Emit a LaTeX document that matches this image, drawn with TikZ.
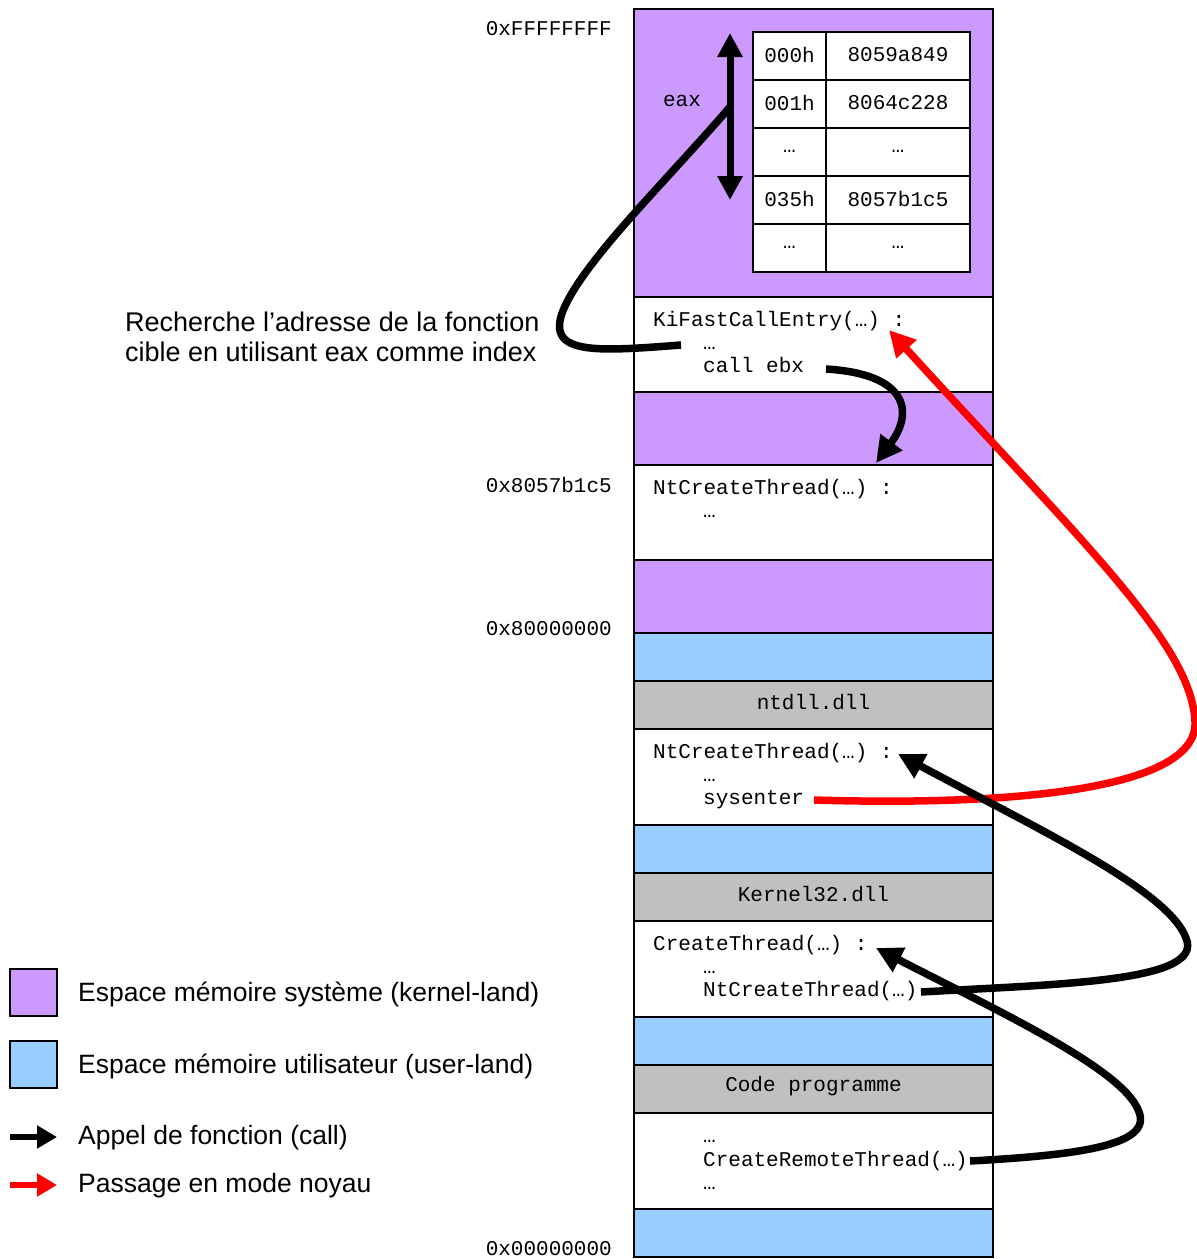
\documentclass[tikz,border=0pt]{standalone}
\usepackage{fontspec}
\setmainfont{Liberation Sans}
\newfontfamily\monof{Liberation Mono}
\usetikzlibrary{arrows.meta}
\definecolor{kern}{HTML}{CC99FF}
\definecolor{usr}{HTML}{99CCFF}
\definecolor{dllg}{HTML}{C0C0C0}
\begin{document}
\begin{tikzpicture}[x=1pt,y=-1pt,
  band/.style={draw=black,line width=2pt},
  mono/.style={font=\monof\fontsize{21}{25}\selectfont, inner sep=0pt},
  sans/.style={font=\fontsize{26.5}{31}\selectfont, inner sep=0pt},
  anno/.style={font=\fontsize{27}{31}\selectfont, inner sep=0pt},
  callarrow/.style={line width=7.5pt, -{Triangle[length=26pt,width=26pt]}},
  kernarrow/.style={callarrow, color=red},
  link/.style={line width=7.5pt},
  legarrow/.style={line width=6.5pt, -{Triangle[length=20pt,width=22pt]}}]
\useasboundingbox (0,0) rectangle (1197,1259);

% memory column
\filldraw[band,fill=kern] (634,9) rectangle (993,297);
\filldraw[band,fill=white] (634,297) rectangle (993,392);
\filldraw[band,fill=kern] (634,392) rectangle (993,465);
\filldraw[band,fill=white] (634,465) rectangle (993,560);
\filldraw[band,fill=kern] (634,560) rectangle (993,633);
\filldraw[band,fill=usr] (634,633) rectangle (993,681);
\filldraw[band,fill=dllg] (634,681) rectangle (993,729);
\filldraw[band,fill=white] (634,729) rectangle (993,825);
\filldraw[band,fill=usr] (634,825) rectangle (993,873);
\filldraw[band,fill=dllg] (634,873) rectangle (993,921);
\filldraw[band,fill=white] (634,921) rectangle (993,1017);
\filldraw[band,fill=usr] (634,1017) rectangle (993,1065);
\filldraw[band,fill=dllg] (634,1065) rectangle (993,1113);
\filldraw[band,fill=white] (634,1113) rectangle (993,1209);
\filldraw[band,fill=usr] (634,1209) rectangle (993,1257);

% table
\foreach \y/\a/\b [count=\i] in {32/000h/8059a849, 80/001h/8064c228, 128/…/…, 176/035h/8057b1c5, 224/…/…}{
  \filldraw[band,fill=white] (753,\y) rectangle (826,\y+48);
  \filldraw[band,fill=white] (826,\y) rectangle (970,\y+48);
  \node[mono] (tk\i) at (789.5,\y+23) {\a};
  \node[mono] (tv\i) at (898,\y+23) {\b};
}

% addresses
\node[mono,anchor=east] (addrF) at (612,29) {0xFFFFFFFF};
\node[mono,anchor=east] (addrN) at (612,485) {0x8057b1c5};
\node[mono,anchor=east] (addr8) at (612,629) {0x80000000};
\node[mono,anchor=east] (addr0) at (612,1249) {0x00000000};

% eax
\node[mono] (eax) at (682,101) {eax};
\coordinate (eaxtop) at (730,33);
\coordinate (eaxbot) at (730,200);
\coordinate (eaxmid) at (730,107);
\draw[line width=7pt,{Triangle[length=24pt,width=24pt]}-{Triangle[length=24pt,width=24pt]}] (eaxtop) -- (eaxbot);

% code texts
\node[mono,anchor=base west] (kifast) at (653,326) {KiFastCallEntry(…) :};
\node[mono,anchor=base west] (kidots) at (703,349) {…};
\node[mono,anchor=base west] (callebx) at (703,372) {call ebx};

\node[mono,anchor=base west] (ntk) at (653,494) {NtCreateThread(…) :};
\node[mono,anchor=base west] (ntkdots) at (703,517) {…};

\node[mono] (ntdll) at (813.5,702) {ntdll.dll};
\node[mono,anchor=base west] (ntu) at (653,758) {NtCreateThread(…) :};
\node[mono,anchor=base west] (ntudots) at (703,781) {…};
\node[mono,anchor=base west] (sysenter) at (703,804) {sysenter};

\node[mono] (k32) at (813.5,894) {Kernel32.dll};
\node[mono,anchor=base west] (ct) at (653,950) {CreateThread(…) :};
\node[mono,anchor=base west] (ctdots) at (703,973) {…};
\node[mono,anchor=base west] (ctcall) at (703,996) {NtCreateThread(…)};

\node[mono] (prog) at (813.5,1086) {Code programme};
\node[mono,anchor=base west] (pdots1) at (703,1142) {…};
\node[mono,anchor=base west] (crt) at (703,1166) {CreateRemoteThread(…)};
\node[mono,anchor=base west] (pdots2) at (703,1189) {…};

% annotation
\node[anno,anchor=west] (ann1) at (125,322) {Recherche l’adresse de la fonction};
\node[anno,anchor=west] (ann2) at (125,352) {cible en utilisant eax comme index};

% connectors
\coordinate (s1) at (681,345);
\draw[link] (s1) .. controls (590,352) and (538,356) .. (568,300)
  .. controls (595,250) and (665,182) .. (eaxmid);

\coordinate (s2) at (826,369);
\coordinate (e2) at (876,463);
\draw[callarrow] (s2) .. controls (908,374) and (914,412) .. (e2);

\coordinate (s3) at (814,800);
\coordinate (m3) at (1195,722);
\coordinate (e3) at (889,330);
\draw[kernarrow] (s3) .. controls (1010,806) and (1198,790) .. (m3)
  .. controls (1192,645) and (1085,545) .. (e3);

\coordinate (s4) at (921,992);
\coordinate (m4) at (1186,938);
\coordinate (e4) at (898,754);
\draw[callarrow] (s4) .. controls (1060,984) and (1205,982) .. (m4)
  .. controls (1168,890) and (1040,830) .. (e4);

\coordinate (s5) at (970,1161);
\coordinate (m5) at (1139,1112);
\coordinate (e5) at (876,948);
\draw[callarrow] (s5) .. controls (1080,1155) and (1152,1145) .. (m5)
  .. controls (1125,1070) and (1000,1012) .. (e5);

% legend
\filldraw[band,fill=kern] (10,969) rectangle (57,1016);
\filldraw[band,fill=usr] (10,1041) rectangle (57,1088);
\coordinate (la1) at (10,1137);
\coordinate (la2) at (57,1137);
\coordinate (lb1) at (10,1185);
\coordinate (lb2) at (57,1185);
\draw[legarrow] (la1) -- (la2);
\draw[legarrow,color=red] (lb1) -- (lb2);
\node[sans,anchor=west] (leg1) at (78,994) {Espace mémoire système (kernel-land)};
\node[sans,anchor=west] (leg2) at (78,1066) {Espace mémoire utilisateur (user-land)};
\node[sans,anchor=west] (leg3) at (78,1138) {Appel de fonction (call)};
\node[sans,anchor=west] (leg4) at (78,1186) {Passage en mode noyau};
\end{tikzpicture}
\end{document}
